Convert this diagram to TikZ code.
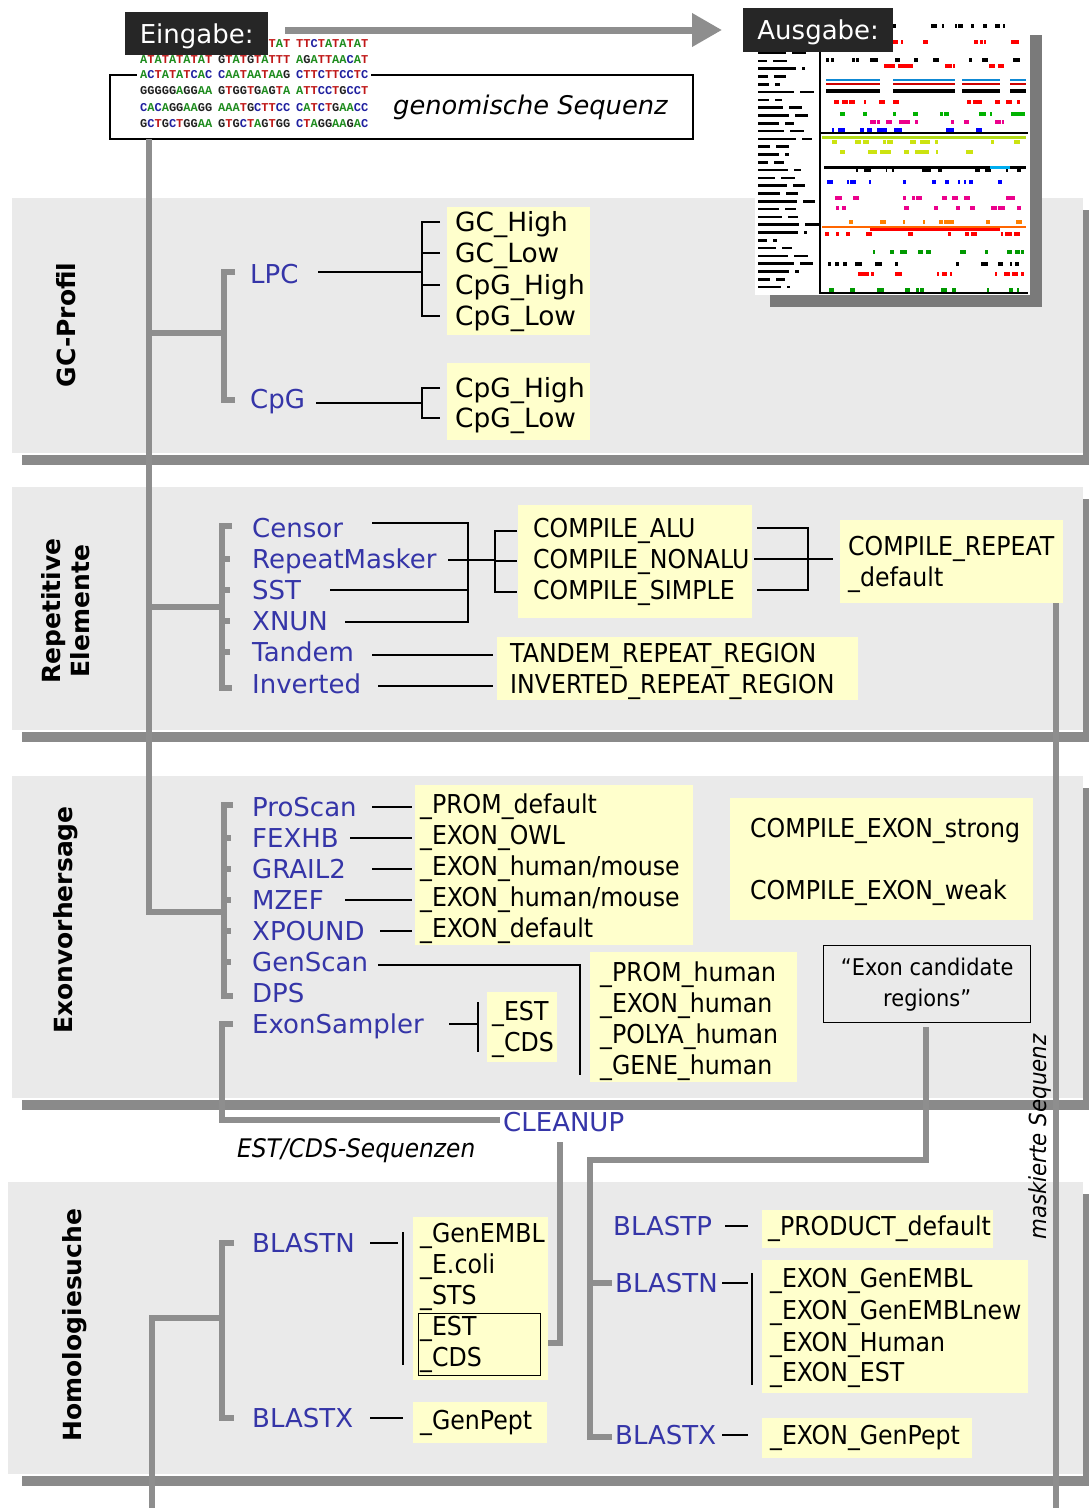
\documentclass[tikz,border=0pt]{standalone}
\usepackage{fontspec}
\setmainfont{DejaVu Sans}
\newfontfamily\narrowf[FakeStretch=0.91]{DejaVu Sans}
\newfontfamily\monof{Liberation Mono}
\usetikzlibrary{arrows.meta}
\definecolor{panelc}{HTML}{EAEAEA}
\definecolor{barc}{HTML}{8A8A8A}
\definecolor{linec}{HTML}{8E8E8E}
\definecolor{ylw}{HTML}{FFFFCC}
\definecolor{bluelab}{HTML}{3535A8}
\definecolor{darkbox}{HTML}{262626}
\definecolor{shad}{HTML}{7A7A7A}
\definecolor{dnaA}{HTML}{1E8C1E}
\definecolor{dnaC}{HTML}{2020A0}
\definecolor{dnaG}{HTML}{202020}
\definecolor{dnaT}{HTML}{C01818}
\def\dnaseq#1{\dnaloop#1\relax}
\def\dnaloop#1{\ifx\relax#1\else\dnachar#1\expandafter\dnaloop\fi}
\def\dnachar#1{\ifx A#1{\color{dnaA}A}\fi\ifx C#1{\color{dnaC}C}\fi\ifx G#1{\color{dnaG}G}\fi\ifx T#1{\color{dnaT}T}\fi}
\newcommand\ybx[5]{\node[ybox, minimum width={(#4)-(#2)}, minimum height={(#5)-(#3)}] (#1) at (#2,#3) {};}
\tikzset{
 gl/.style={draw=linec, line width=6pt},
 bk/.style={draw=black, line width=1.4pt},
 ybox/.style={fill=ylw, draw=none, inner sep=0pt, anchor=north west},
 bl/.style={font=\fontsize{26}{30}\selectfont, text=bluelab, anchor=west, inner sep=0pt, text height=19pt, text depth=0pt},
 gt/.style={font=\fontsize{26.4}{30}\selectfont, anchor=west, inner sep=0pt, text height=19pt, text depth=0pt},
 nt/.style={font=\narrowf\fontsize{26}{30}\selectfont, anchor=west, inner sep=0pt, text height=19pt, text depth=0pt},
 sec/.style={font=\bfseries\fontsize{25}{29}\selectfont, rotate=90, align=center, inner sep=0pt},
 dna/.style={font=\monof\bfseries\fontsize{12}{12}\selectfont, anchor=west, inner ysep=0.5pt, inner xsep=3pt, fill=white},
 hdr/.style={fill=darkbox, text=white, font=\fontsize{26}{30}\selectfont, inner sep=0pt, anchor=north west, text height=19pt, text depth=0pt},
}
\begin{document}
\begin{tikzpicture}[x=1pt,y=-1pt]
\useasboundingbox (0,0) rectangle (1089,1508);
\fill[white] (0,0) rectangle (1089,1508);
% ---------------- panels
\foreach \ya/\yb/\xa in {198/453/12, 487/730/12, 776/1098/12, 1182/1474/8} {
  \fill[panelc] (\xa,\ya) rectangle (1083,\yb);
  \fill[barc] (22,\yb+2) rectangle (1089,\yb+12);
  \fill[barc] (1083,\ya+12) rectangle (1089,\yb+2);
}
% ---------------- output thumbnail
\fill[shad] (770,35) rectangle (1042,307);
\fill[white] (755,20) rectangle (1030,295);
\draw[black, line width=1.2pt] (820,30) -- (820,293) -- (1028,293);
\draw[black, line width=1.2pt] (820,133) -- (1028,133);
\pgfmathsetseed{12}
\foreach \i in {0,...,31} {
  \pgfmathsetmacro\ww{8+34*rnd}
  \pgfmathsetmacro\wb{3+12*rnd}
  \fill[black] (758,{44+7.8*\i}) rectangle ++(\ww,2.6);
  \fill[black] ({764+\ww},{44+7.8*\i}) rectangle ++(\wb,2.6);
}
\foreach \yy/\cc in {24/black,40/red,58/black,64/red,100/red,112/green!70!black,120/magenta,128/blue,
   140/yellow!80!green,150/yellow!80!green,168/black,180/blue,196/magenta,206/magenta,220/orange,
   232/red,250/green!60!black,262/black,272/red,288/green!60!black} {
  \foreach \k in {1,...,13} {
    \pgfmathsetmacro\xx{824+198*rnd}
    \pgfmathsetmacro\ww{1.5+5*rnd}
    \fill[\cc] (\xx,\yy) rectangle ++(\ww,3.5);
  }
}
\foreach \xa/\xb in {826/880, 893/955, 962/1000, 1010/1026} {
  \fill[cyan!70!blue] (\xa,79) rectangle (\xb,81);
  \fill[red!80!black] (\xa,83) rectangle (\xb,85);
  \fill[black] (\xa,89) rectangle (\xb,93);
}
\fill[black] (824,166) rectangle (1026,168.5);
\fill[cyan] (990,166) rectangle (1010,168.5);
\fill[yellow!70!green] (822,136) rectangle (1026,138.5);
\fill[orange!80!red] (822,226) rectangle (1026,228);
\fill[red] (870,228) rectangle (1000,230.5);
% ---------------- header
\node[hdr, minimum width=150pt, minimum height=44pt] (ausgabe) at (743,8) {Ausgabe:};
\draw[black, line width=1.4pt] (110,75) rectangle (693,139);
\node[dna] (dna1b) at (265.4,44) {\dnaseq{TAT}};
\node[dna] (dna1c) at (293,44) {\dnaseq{TTCTATATAT}};
\foreach \r/\yy/\sa/\sb/\sc in {2/60/ATATATATAT/GTATGTATTT/AGATTAACAT,
   3/75/ACTATATCAC/CAATAATAAG/CTTCTTCCTC,
   4/91/GGGGGAGGAA/GTGGTGAGTA/ATTCCTGCCT,
   5/108/CACAGGAAGG/AAATGCTTCC/CATCTGAACC,
   6/124/GCTGCTGGAA/GTGCTAGTGG/CTAGGAAGAC} {
  \node[dna] (dna\r a) at (137,\yy) {\expandafter\dnaseq\expandafter{\sa}};
  \node[dna] (dna\r b) at (215,\yy) {\expandafter\dnaseq\expandafter{\sb}};
  \node[dna] (dna\r c) at (293,\yy) {\expandafter\dnaseq\expandafter{\sc}};
}
\coordinate (seq) at (149,139);
\node[font=\itshape\fontsize{25.7}{30}\selectfont, anchor=west, inner sep=0pt, text height=19pt, text depth=0pt] (genseq) at (393,105) {genomische Sequenz};
\node[hdr, minimum width=143pt, minimum height=43pt] (eingabe) at (125,12) {Eingabe:};
\coordinate (arrS) at (285,30);
\coordinate (arrE) at (722,30);
\draw[draw=linec, line width=7pt, -{Triangle[length=30pt,width=32pt]}] (arrS) -- (arrE);
% ---------------- gray connectors
\draw[gl] (seq) -- (149,912) -- (224,912);
\draw[gl] (149,333) -- (224,333);
\draw[gl] (235,272) -- (224,272) -- (224,400) -- (235,400);
\draw[gl] (149,607) -- (222,607);
\draw[gl] (232,526) -- (222,526) -- (222,688) -- (232,688);
\foreach \t in {559,590,621,652} \draw[gl] (222,\t) -- (230,\t);
\draw[gl] (233,805) -- (224,805) -- (224,996) -- (233,996);
\foreach \t in {838,869,900,931,962} \draw[gl] (224,\t) -- (231,\t);
\draw[gl] (233,1024) -- (222,1024) -- (222,1120) -- (500,1120);
\draw[gl] (152,1508) -- (152,1318) -- (222,1318);
\draw[gl] (234,1243) -- (222,1243) -- (222,1418) -- (234,1418);
\draw[gl] (560,1142) -- (560,1343) -- (546,1343);
\draw[gl] (926,1027) -- (926,1160) -- (590,1160) -- (590,1437) -- (612,1437);
\draw[gl] (590,1283) -- (612,1283);
\draw[gl] (1056,603) -- (1056,1508);
% ---------------- section labels
\node[sec] (s1) at (66,325) {GC-Profil};
\node[sec] (s2) at (66,611) {Repetitive\\Elemente};
\node[sec] (s3) at (66,920) {Exonvorhersage};
\node[sec] (s4) at (75,1325) {Homologiesuche};
% ---------------- GC-Profil
\ybx{y1}{447}{207}{590}{335}
\ybx{y2}{447}{363}{590}{440}
\node[bl] (lpc) at (250,274) {LPC};
\node[bl] (cpg) at (250,399) {CpG};
\node[gt] (g1) at (455,222) {GC\_High};
\node[gt] (g2) at (455,253) {GC\_Low};
\node[gt] (g3) at (455,285) {CpG\_High};
\node[gt] (g4) at (455,316) {CpG\_Low};
\node[gt] (g5) at (455,388) {CpG\_High};
\node[gt] (g6) at (455,418) {CpG\_Low};
\draw[bk] (318,272) -- (422,272);
\draw[bk] (440,222) -- (422,222) -- (422,316) -- (440,316);
\draw[bk] (422,253) -- (440,253) (422,285) -- (440,285);
\draw[bk] (316,403) -- (422,403);
\draw[bk] (440,388) -- (422,388) -- (422,418) -- (440,418);
% ---------------- Repetitive Elemente
\ybx{y3}{518}{505}{752}{618}
\ybx{y4}{840}{520}{1063}{603}
\ybx{y5}{497}{637}{858}{700}
\node[bl] (cen) at (252,528) {Censor};
\node[bl] (rm) at (252,559) {RepeatMasker};
\node[bl] (sst) at (252,590) {SST};
\node[bl] (xnun) at (252,621) {XNUN};
\node[bl] (tan) at (252,652) {Tandem};
\node[bl] (inv) at (252,684) {Inverted};
\node[nt] (c1) at (533,528) {COMPILE\_ALU};
\node[nt] (c2) at (533,559) {COMPILE\_NONALU};
\node[nt] (c3) at (533,590) {COMPILE\_SIMPLE};
\node[nt] (c4) at (848,546) {COMPILE\_REPEAT};
\node[nt] (c5) at (848,577) {\_default};
\node[nt] (t1) at (510,653) {TANDEM\_REPEAT\_REGION};
\node[nt] (t2) at (510,684) {INVERTED\_REPEAT\_REGION};
\draw[bk] (372,523) -- (468,523) -- (468,622) -- (345,622);
\draw[bk] (330,590) -- (468,590);
\draw[bk] (448,560) -- (495,560);
\draw[bk] (517,531) -- (495,531) -- (495,592) -- (517,592);
\draw[bk] (495,561) -- (517,561);
\draw[bk] (757,528) -- (808,528) -- (808,590) -- (757,590);
\draw[bk] (754,559) -- (833,559);
\draw[bk] (372,655) -- (493,655);
\draw[bk] (378,686) -- (493,686);
% ---------------- Exonvorhersage
\ybx{y6}{415}{785}{693}{945}
\ybx{y7}{730}{798}{1033}{920}
\ybx{y8}{590}{952}{797}{1082}
\ybx{y9}{487}{992}{557}{1062}
\node[bl] (pro) at (252,807) {ProScan};
\node[bl] (fex) at (252,838) {FEXHB};
\node[bl] (gra) at (252,869) {GRAIL2};
\node[bl] (mze) at (252,900) {MZEF};
\node[bl] (xpo) at (252,931) {XPOUND};
\node[bl] (gen) at (252,962) {GenScan};
\node[bl] (dps) at (252,993) {DPS};
\node[bl] (exs) at (252,1024) {ExonSampler};
\node[nt] (e1) at (420,804) {\_PROM\_default};
\node[nt] (e2) at (420,835) {\_EXON\_OWL};
\node[nt] (e3) at (420,866) {\_EXON\_human/mouse};
\node[nt] (e4) at (420,897) {\_EXON\_human/mouse};
\node[nt] (e5) at (420,928) {\_EXON\_default};
\node[nt] (e6) at (750,828) {COMPILE\_EXON\_strong};
\node[nt] (e7) at (750,890) {COMPILE\_EXON\_weak};
\node[nt] (e8) at (600,972) {\_PROM\_human};
\node[nt] (e9) at (600,1003) {\_EXON\_human};
\node[nt] (e10) at (600,1034) {\_POLYA\_human};
\node[nt] (e11) at (600,1065) {\_GENE\_human};
\node[nt] (e12) at (492,1011) {\_EST};
\node[nt] (e13) at (492,1042) {\_CDS};
\draw[bk] (372,807) -- (412,807);
\draw[bk] (350,838) -- (412,838);
\draw[bk] (372,869) -- (412,869);
\draw[bk] (345,900) -- (412,900);
\draw[bk] (380,931) -- (412,931);
\draw[bk] (378,965) -- (580,965) -- (580,1075);
\draw[bk] (449,1024) -- (478,1024);
\draw[bk] (478,1002) -- (478,1052);
\node[draw=black, line width=1.4pt, fill=panelc, minimum width=207pt, minimum height=77pt, anchor=north west, inner sep=0pt] (cand) at (823,945) {};
\node[font=\narrowf\fontsize{23}{31}\selectfont, align=center, inner sep=0pt] (candt) at (cand.center) {“Exon candidate\\regions”};
% ---------------- middle
\node[bl] (clean) at (503,1122) {CLEANUP};
\node[font=\narrowf\itshape\fontsize{25.6}{28}\selectfont, anchor=west, inner sep=0pt, text height=18pt, text depth=0pt] (estcds) at (237,1148) {EST/CDS-Sequenzen};
\node[font=\narrowf\itshape\fontsize{23.5}{28}\selectfont, rotate=90, inner sep=0pt] (mask) at (1040,1137) {maskierte Sequenz};
% ---------------- Homologiesuche
\ybx{y10}{413}{1217}{548}{1380}
\ybx{y11}{413}{1402}{547}{1443}
\ybx{y12}{762}{1210}{993}{1248}
\ybx{y13}{762}{1260}{1028}{1393}
\ybx{y14}{762}{1418}{972}{1458}
\node[bl] (bn1) at (252,1243) {BLASTN};
\node[bl] (bx1) at (252,1418) {BLASTX};
\node[bl] (bp2) at (613,1226) {BLASTP};
\node[bl] (bn2) at (615,1283) {BLASTN};
\node[bl] (bx2) at (615,1435) {BLASTX};
\node[nt] (h1) at (420,1233) {\_GenEMBL};
\node[nt] (h2) at (420,1264) {\_E.coli};
\node[nt] (h3) at (420,1295) {\_STS};
\node[nt] (h4) at (420,1326) {\_EST};
\node[nt] (h5) at (420,1357) {\_CDS};
\node[draw=black, line width=1.4pt, minimum width=122pt, minimum height=62pt, anchor=north west, inner sep=0pt] (estbox) at (418,1313) {};
\node[nt] (h6) at (420,1420) {\_GenPept};
\node[nt] (h7) at (768,1226) {\_PRODUCT\_default};
\node[nt] (h8) at (770,1278) {\_EXON\_GenEMBL};
\node[nt] (h9) at (770,1310) {\_EXON\_GenEMBLnew};
\node[nt] (h10) at (770,1342) {\_EXON\_Human};
\node[nt] (h11) at (770,1372) {\_EXON\_EST};
\node[nt] (h12) at (770,1435) {\_EXON\_GenPept};
\draw[bk] (370,1243) -- (398,1243);
\draw[bk] (403,1232) -- (403,1365);
\draw[bk] (370,1418) -- (403,1418);
\draw[bk] (725,1226) -- (748,1226);
\draw[bk] (722,1283) -- (748,1283);
\draw[bk] (752,1273) -- (752,1385);
\draw[bk] (722,1435) -- (748,1435);
\end{tikzpicture}
\end{document}
